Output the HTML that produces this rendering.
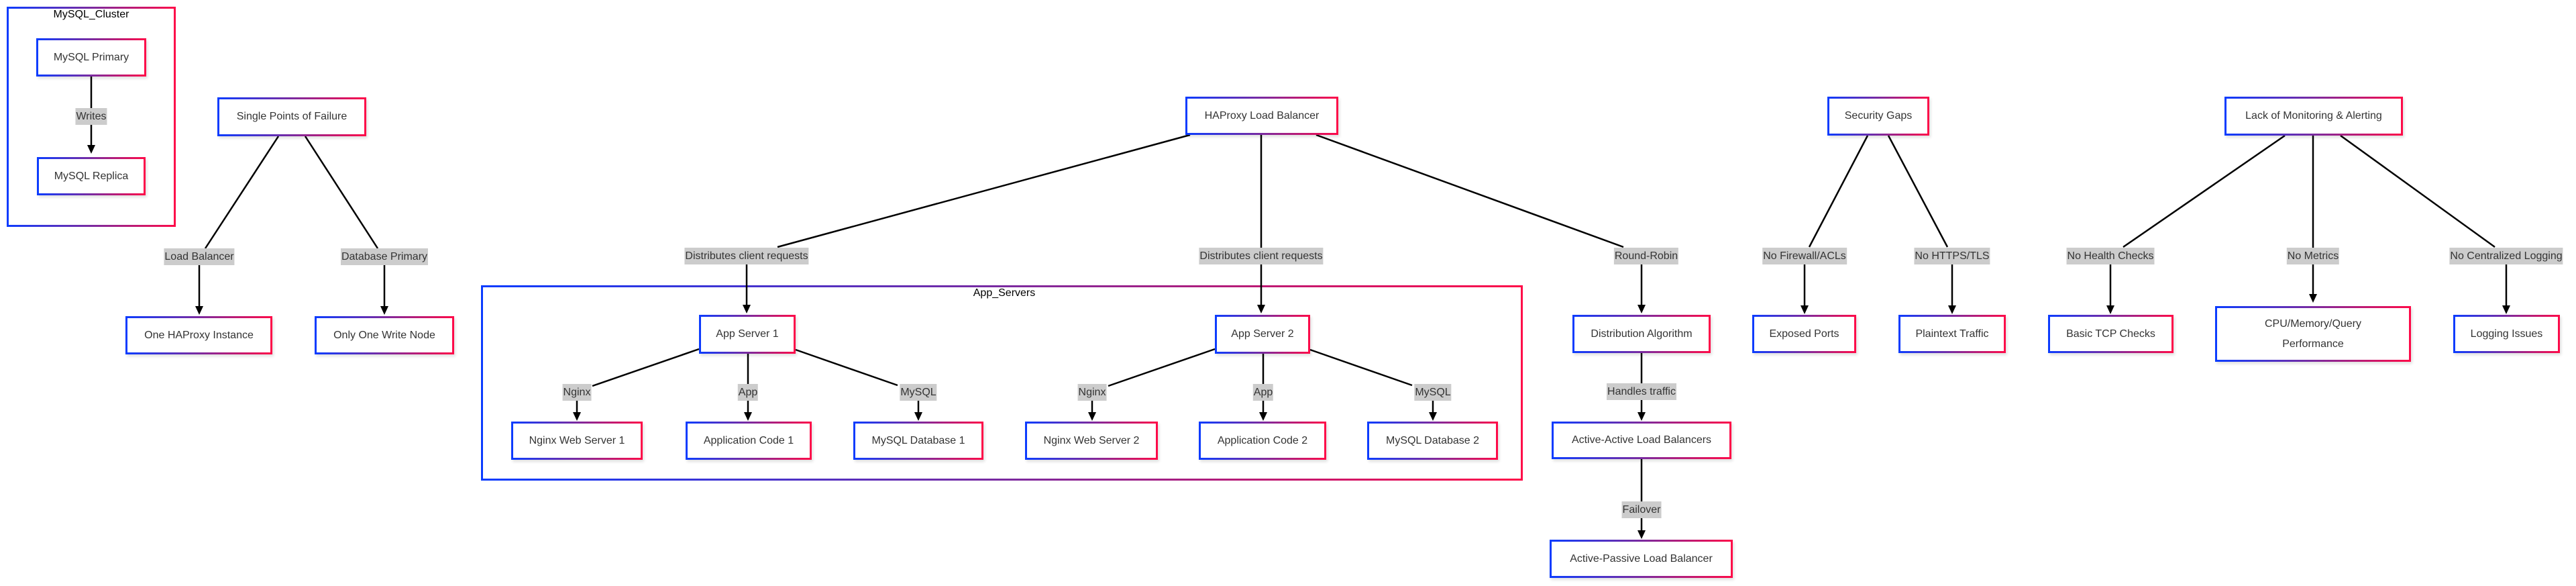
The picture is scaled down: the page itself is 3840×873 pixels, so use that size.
<!DOCTYPE html>
<html><head><meta charset="utf-8"><style>
body{margin:0;width:3840px;height:873px;background:#fff;position:relative;overflow:hidden;font-family:"Liberation Sans",Arial,sans-serif}
.n{position:absolute;box-sizing:border-box;border:3px solid transparent;background:linear-gradient(#fff,#fff) padding-box,linear-gradient(to right,#0b3cff,#7a2aa0 50%,#ff0a48) border-box;display:flex;align-items:center;justify-content:center;text-align:center;font-size:16px;color:#333;line-height:30px;box-shadow:2px 3px 4px rgba(0,0,0,0.12)}
.c{position:absolute;box-sizing:border-box;border:3px solid transparent;background:linear-gradient(#fff,#fff) padding-box,linear-gradient(to right,#0b3cff,#7a2aa0 50%,#ff0a48) border-box}
.t{position:absolute;font-size:16px;color:#000;transform:translateX(-50%);white-space:nowrap}
.l{position:absolute;background:#cccccc;color:#333;font-size:16px;height:25px;line-height:25px;transform:translateX(-50%);white-space:nowrap;padding:0 1px}
svg{position:absolute;left:0;top:0}
</style></head><body>
<div class="c" style="left:10px;top:10px;width:252px;height:328px"></div>
<div class="t" style="left:136px;top:13px">MySQL_Cluster</div>
<div class="c" style="left:717px;top:425px;width:1553px;height:291px"></div>
<div class="t" style="left:1497px;top:428px">App_Servers</div>

<svg width="3840" height="873">
<g stroke="#000" stroke-width="2.5" fill="none">
<line x1="136" y1="114" x2="136" y2="218"/>
<line x1="415" y1="203" x2="306" y2="370"/><line x1="455" y1="203" x2="563" y2="370"/>
<line x1="297" y1="395" x2="297" y2="458"/><line x1="573" y1="395" x2="573" y2="458"/>
<line x1="1774" y1="201" x2="1159" y2="368"/><line x1="1880" y1="201" x2="1880" y2="456"/><line x1="1962" y1="201" x2="2420" y2="368"/>
<line x1="1113" y1="394" x2="1113" y2="456"/><line x1="2447" y1="394" x2="2447" y2="456"/>
<line x1="1042" y1="520" x2="883" y2="575"/><line x1="1115" y1="527" x2="1115" y2="616"/><line x1="1186" y1="521" x2="1338" y2="574"/>
<line x1="860" y1="597" x2="860" y2="616"/><line x1="1369" y1="597" x2="1369" y2="616"/>
<line x1="1811" y1="520" x2="1652" y2="575"/><line x1="1883" y1="527" x2="1883" y2="616"/><line x1="1953" y1="521" x2="2105" y2="574"/>
<line x1="1628" y1="597" x2="1628" y2="616"/><line x1="2136" y1="597" x2="2136" y2="616"/>
<line x1="2447" y1="526" x2="2447" y2="616"/>
<line x1="2447" y1="684" x2="2447" y2="792"/>
<line x1="2784" y1="202" x2="2697" y2="368"/><line x1="2815" y1="202" x2="2903" y2="368"/>
<line x1="2690" y1="394" x2="2690" y2="457"/><line x1="2910" y1="394" x2="2910" y2="457"/>
<line x1="3406" y1="202" x2="3165" y2="368"/><line x1="3448" y1="202" x2="3448" y2="440"/><line x1="3489" y1="202" x2="3719" y2="368"/>
<line x1="3146" y1="394" x2="3146" y2="457"/><line x1="3736" y1="394" x2="3736" y2="457"/>
</g>
<g fill="#000">
<polygon points="130,216 142,216 136,229"/>
<polygon points="291,456 303,456 297,469"/><polygon points="567,456 579,456 573,469"/>
<polygon points="1107,454 1119,454 1113,467"/><polygon points="1874,454 1886,454 1880,467"/><polygon points="2441,454 2453,454 2447,467"/>
<polygon points="854,614 866,614 860,627"/><polygon points="1109,614 1121,614 1115,627"/><polygon points="1363,614 1375,614 1369,627"/>
<polygon points="1622,614 1634,614 1628,627"/><polygon points="1877,614 1889,614 1883,627"/><polygon points="2130,614 2142,614 2136,627"/>
<polygon points="2441,614 2453,614 2447,627"/><polygon points="2441,790 2453,790 2447,803"/>
<polygon points="2684,455 2696,455 2690,468"/><polygon points="2904,455 2916,455 2910,468"/>
<polygon points="3140,455 3152,455 3146,468"/><polygon points="3442,438 3454,438 3448,451"/><polygon points="3730,455 3742,455 3736,468"/>
</g>
</svg>

<div class="n" style="left:54px;top:57px;width:164px;height:57px">MySQL Primary</div>
<div class="n" style="left:55px;top:234px;width:162px;height:57px">MySQL Replica</div>
<div class="l" style="left:136px;top:161px">Writes</div>

<div class="n" style="left:324px;top:145px;width:222px;height:58px">Single Points of Failure</div>
<div class="l" style="left:297px;top:370px">Load Balancer</div>
<div class="l" style="left:573px;top:370px">Database Primary</div>
<div class="n" style="left:187px;top:471px;width:219px;height:57px">One HAProxy Instance</div>
<div class="n" style="left:469px;top:471px;width:208px;height:57px">Only One Write Node</div>

<div class="n" style="left:1767px;top:144px;width:228px;height:57px">HAProxy Load Balancer</div>
<div class="l" style="left:1113px;top:369px">Distributes client requests</div>
<div class="l" style="left:1880px;top:369px">Distributes client requests</div>
<div class="l" style="left:2454px;top:369px">Round-Robin</div>

<div class="n" style="left:1042px;top:469px;width:144px;height:58px">App Server 1</div>
<div class="n" style="left:1811px;top:469px;width:142px;height:58px">App Server 2</div>
<div class="l" style="left:860px;top:572px">Nginx</div>
<div class="l" style="left:1115px;top:572px">App</div>
<div class="l" style="left:1369px;top:572px">MySQL</div>
<div class="l" style="left:1628px;top:572px">Nginx</div>
<div class="l" style="left:1883px;top:572px">App</div>
<div class="l" style="left:2136px;top:572px">MySQL</div>
<div class="n" style="left:762px;top:628px;width:196px;height:57px">Nginx Web Server 1</div>
<div class="n" style="left:1022px;top:628px;width:188px;height:57px">Application Code 1</div>
<div class="n" style="left:1272px;top:628px;width:194px;height:57px">MySQL Database 1</div>
<div class="n" style="left:1528px;top:628px;width:198px;height:57px">Nginx Web Server 2</div>
<div class="n" style="left:1787px;top:628px;width:190px;height:57px">Application Code 2</div>
<div class="n" style="left:2038px;top:628px;width:195px;height:57px">MySQL Database 2</div>

<div class="n" style="left:2344px;top:469px;width:206px;height:57px">Distribution Algorithm</div>
<div class="l" style="left:2447px;top:571px">Handles traffic</div>
<div class="n" style="left:2313px;top:628px;width:268px;height:56px">Active-Active Load Balancers</div>
<div class="l" style="left:2447px;top:747px">Failover</div>
<div class="n" style="left:2310px;top:804px;width:273px;height:57px">Active-Passive Load Balancer</div>

<div class="n" style="left:2724px;top:144px;width:152px;height:58px">Security Gaps</div>
<div class="l" style="left:2690px;top:369px">No Firewall/ACLs</div>
<div class="l" style="left:2910px;top:369px">No HTTPS/TLS</div>
<div class="n" style="left:2612px;top:469px;width:155px;height:57px">Exposed Ports</div>
<div class="n" style="left:2830px;top:469px;width:160px;height:57px">Plaintext Traffic</div>

<div class="n" style="left:3316px;top:144px;width:266px;height:58px">Lack of Monitoring &amp; Alerting</div>
<div class="l" style="left:3146px;top:369px">No Health Checks</div>
<div class="l" style="left:3448px;top:369px">No Metrics</div>
<div class="l" style="left:3736px;top:369px">No Centralized Logging</div>
<div class="n" style="left:3053px;top:469px;width:187px;height:57px">Basic TCP Checks</div>
<div class="n" style="left:3302px;top:456px;width:292px;height:83px;padding:0 40px">CPU/Memory/Query Performance</div>
<div class="n" style="left:3657px;top:469px;width:159px;height:57px">Logging Issues</div>
</body></html>
